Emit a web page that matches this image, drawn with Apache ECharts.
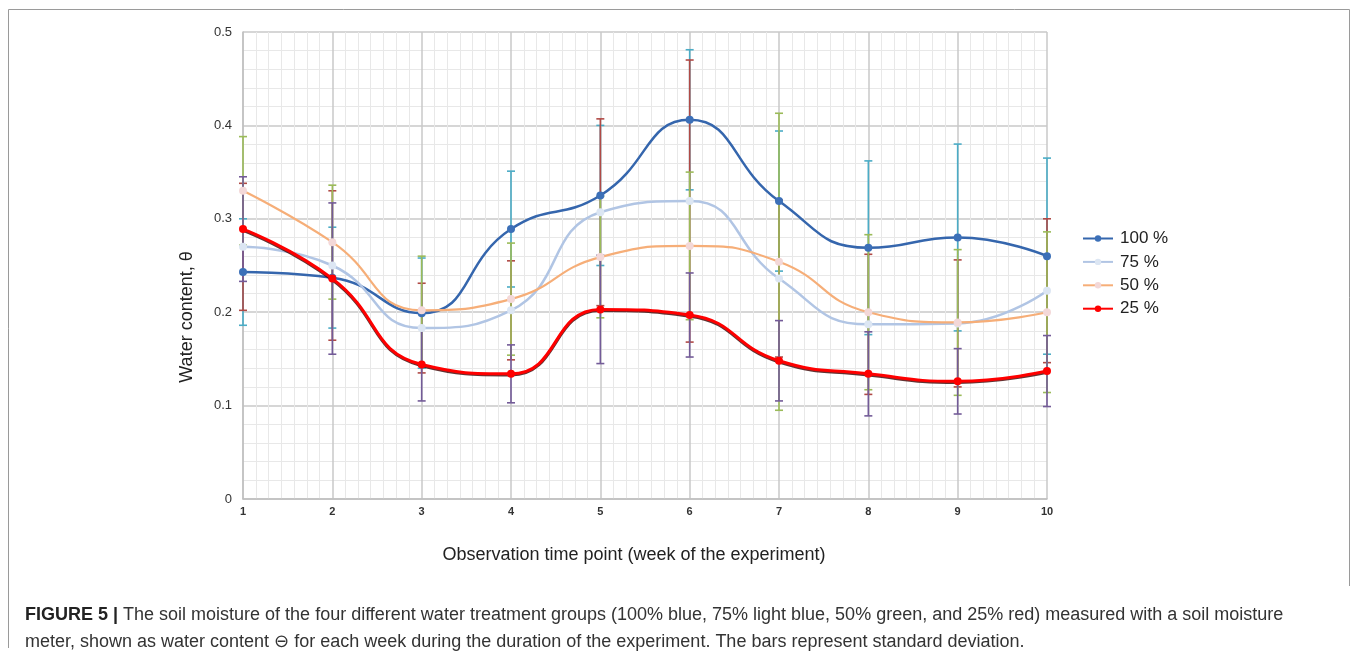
<!DOCTYPE html>
<html>
<head>
<meta charset="utf-8">
<script src="https://cdn.jsdelivr.net/npm/echarts@6/dist/echarts.min.js"></script>
<style>
html,body{margin:0;padding:0;background:#fff;}
#chart{width:1358px;height:658px;}
</style>
</head>
<body>
<div id="chart"></div>
<script>
// ---- data ----
const weeks = [1, 2, 3, 4, 5, 6, 7, 8, 9, 10];
const seriesNames = ['100 %', '75 %', '50 %', '25 %'];
const v100 = [0.243, 0.237, 0.199, 0.289, 0.325, 0.406, 0.319, 0.269, 0.280, 0.260];
const v75  = [0.270, 0.250, 0.183, 0.202, 0.307, 0.319, 0.236, 0.187, 0.188, 0.223];
const v50  = [0.330, 0.275, 0.202, 0.214, 0.259, 0.271, 0.254, 0.200, 0.189, 0.200];
const v25  = [0.289, 0.236, 0.144, 0.134, 0.203, 0.197, 0.148, 0.134, 0.126, 0.137];
// standard deviations (error bars)
const sd100 = [0.057, 0.054, 0.059, 0.062, 0.075, 0.075, 0.075, 0.093, 0.100, 0.105];
const sd75  = [0.068, 0.080, 0.048, 0.053, 0.100, 0.151, 0.084, 0.075, 0.068, 0.077];
const sd50  = [0.058, 0.061, 0.058, 0.060, 0.065, 0.079, 0.159, 0.083, 0.078, 0.086];
const sd25  = [0.056, 0.081, 0.039, 0.031, 0.058, 0.045, 0.043, 0.045, 0.035, 0.038];
const yTicks = [0, 0.1, 0.2, 0.3, 0.4, 0.5];

const values = [v100, v75, v50, v25];
const sds = [sd100, sd75, sd50, sd25];
const lineColors = ['#3566AD', '#B1C5E4', '#F6AE78', '#FF0000'];
const markerColors = ['#3C70B8', '#DCE6F3', '#F3D8D8', '#FF0000'];
const errColors = ['#4BACC6', '#B04A46', '#9BBB59', '#735B98'];
const lineWidths = [2.5, 2.5, 2.2, 3];

const chart = echarts.init(document.getElementById('chart'));

const series = [];
// error bars first (below the lines), drawn in series order
values.forEach((vals, i) => {
  series.push({
    type: 'custom',
    name: 'err' + i,
    z: 1 + i * 0.1,
    silent: true,
    encode: { x: 0, y: 1 },
    data: weeks.map((w, k) => [w, vals[k], sds[i][k]]),
    renderItem: function (params, api) {
      const x = api.value(0), y = api.value(1), e = api.value(2);
      const top = api.coord([x, y + e]);
      const bot = api.coord([x, y - e]);
      const cap = 4;
      const st = { stroke: errColors[i], lineWidth: 1.6 };
      return {
        type: 'group',
        children: [
          { type: 'line', shape: { x1: top[0], y1: top[1], x2: bot[0], y2: bot[1] }, style: st },
          { type: 'line', shape: { x1: top[0] - cap, y1: top[1], x2: top[0] + cap, y2: top[1] }, style: st },
          { type: 'line', shape: { x1: bot[0] - cap, y1: bot[1], x2: bot[0] + cap, y2: bot[1] }, style: st }
        ]
      };
    }
  });
});
values.forEach((vals, i) => {
  series.push({
    type: 'line',
    name: seriesNames[i],
    z: 5 + i,
    smooth: 0.5,
    symbol: 'circle',
    symbolSize: 8,
    data: weeks.map((w, k) => [w, vals[k]]),
    lineStyle: i === 3
      ? { color: lineColors[i], width: lineWidths[i], shadowColor: 'rgba(60,0,0,0.8)', shadowOffsetY: 1.2 }
      : { color: lineColors[i], width: lineWidths[i] },
    itemStyle: { color: markerColors[i], borderColor: markerColors[i], borderWidth: 0 },
    emphasis: { disabled: true }
  });
});

chart.setOption({
  animation: false,
  backgroundColor: '#fff',
  grid: { left: 243, right: 311, top: 32, bottom: 159, containLabel: false },
  xAxis: {
    type: 'value',
    min: 1, max: 10, interval: 1,
    axisLine: { show: true, lineStyle: { color: '#BFBFBF', width: 1.5 } },
    axisTick: { show: false },
    minorTick: { show: false, splitNumber: 7 },
    splitLine: { show: true, lineStyle: { color: '#C8C8C8', width: 1.5 } },
    minorSplitLine: { show: true, lineStyle: { color: '#E8E8E8', width: 1 } },
    axisLabel: { color: '#333', fontSize: 11, fontWeight: 'bold', fontFamily: 'Liberation Sans', margin: 7,
      formatter: v => String(weeks[Math.round(v) - 1]) }
  },
  yAxis: {
    type: 'value',
    min: 0, max: 0.5, interval: 0.1,
    axisLine: { show: true, lineStyle: { color: '#BFBFBF', width: 1.5 } },
    axisTick: { show: false },
    minorTick: { show: false, splitNumber: 5 },
    splitLine: { show: true, lineStyle: { color: '#C8C8C8', width: 1.5 } },
    minorSplitLine: { show: true, lineStyle: { color: '#E8E8E8', width: 1 } },
    axisLabel: { color: '#333', fontSize: 13, fontFamily: 'Liberation Sans', margin: 11,
      formatter: v => { const t = yTicks.find(x => Math.abs(x - v) < 1e-9); return t === undefined ? '' : String(t); } }
  },
  legend: {
    orient: 'vertical',
    left: 1077, top: 225,
    itemWidth: 30, itemHeight: 8, itemGap: 6.4,
    data: seriesNames,
    textStyle: { fontSize: 17, color: '#222', fontFamily: 'Liberation Sans', padding: [0, 0, 0, 2] },
    selectedMode: false
  },
  graphic: [
    { type: 'text', x: 187, y: 317, rotation: Math.PI / 2, style: { text: 'Water content, θ', font: '18px "Liberation Sans"', fill: '#222', textAlign: 'center', textVerticalAlign: 'middle' } },
    { type: 'text', x: 634, y: 555, style: { text: 'Observation time point (week of the experiment)', font: '18px "Liberation Sans"', fill: '#222', textAlign: 'center', textVerticalAlign: 'middle' } },
    { type: 'polyline', shape: { points: [[8.5, 648], [8.5, 9.5], [1349.5, 9.5], [1349.5, 586]] }, style: { stroke: '#9A9A9A', lineWidth: 1, fill: null } },
    { type: 'text', x: 25, y: 615, style: { text: '{b|FIGURE 5 |} The soil moisture of the four different water treatment groups (100% blue, 75% light blue, 50% green, and 25% red) measured with a soil moisture', font: '18px "Liberation Sans"', fill: '#333', textVerticalAlign: 'middle', rich: { b: { fontWeight: 'bold', fontSize: 18, fontFamily: 'Liberation Sans', fill: '#222' } } } },
    { type: 'text', x: 25, y: 642, style: { text: 'meter, shown as water content ⊖ for each week during the duration of the experiment. The bars represent standard deviation.', font: '18px "Liberation Sans"', fill: '#333', textVerticalAlign: 'middle' } }
  ],
  series: series
});
</script>
</body>
</html>
